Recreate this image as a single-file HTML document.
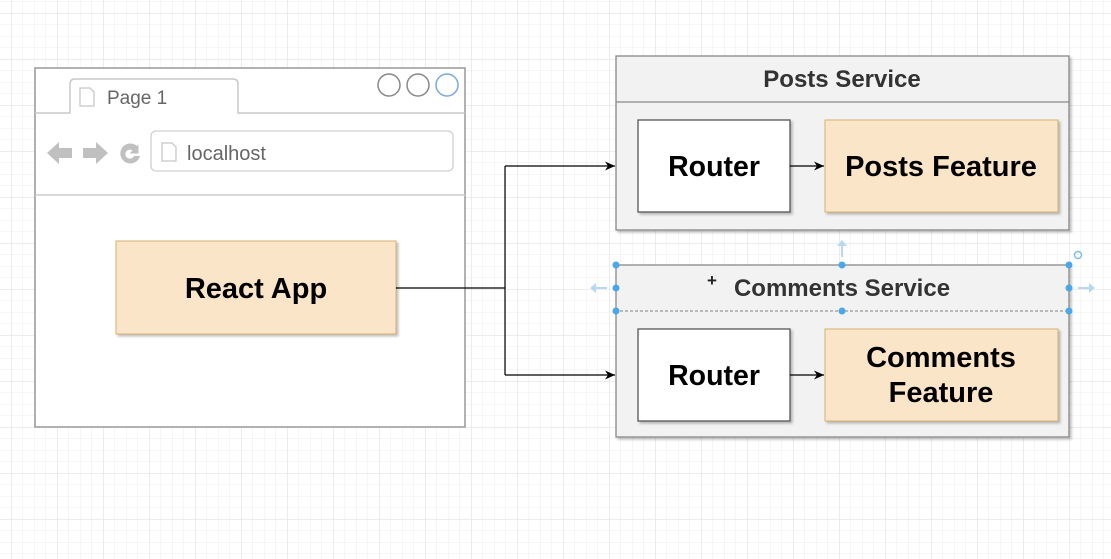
<!DOCTYPE html>
<html><head><meta charset="utf-8"><style>
html,body{margin:0;padding:0;background:#fff;width:1111px;height:559px;overflow:hidden}
svg{display:block}
text{font-family:"Liberation Sans",Arial,sans-serif}
</style></head><body>
<svg width="1111" height="559" viewBox="0 0 1111 559" xmlns="http://www.w3.org/2000/svg">
<defs>
<pattern id="minor" x="11" y="13" width="11.5" height="11.5" patternUnits="userSpaceOnUse">
<path d="M0 0H11.5M0 0V11.5" stroke="#eeeeee" stroke-width="1" fill="none"/>
</pattern>
<pattern id="major" x="11" y="13" width="46" height="46" patternUnits="userSpaceOnUse">
<path d="M0 0H46M0 0V46" stroke="#e2e2e2" stroke-width="1.3" fill="none"/>
</pattern>
<filter id="sh" x="-5%" y="-5%" width="110%" height="115%"><feDropShadow dx="2" dy="2" stdDeviation="1.2" flood-color="#000" flood-opacity="0.25"/></filter>
<marker id="ar" markerWidth="12" markerHeight="12" refX="10" refY="6" orient="auto" markerUnits="userSpaceOnUse"><path d="M0,1.5 L10,6 L0,10.5 L3,6 Z" fill="#000"/></marker>
</defs>
<rect width="1111" height="559" fill="#fff"/>
<rect width="1111" height="559" fill="url(#minor)"/>
<rect width="1111" height="559" fill="url(#major)"/>

<!-- browser -->
<rect x="35" y="68" width="430" height="359" fill="#fff" stroke="#999" stroke-width="1.5"/>
<path d="M35 113H70V84Q70 79 75 79H233Q238 79 238 84V113H465" fill="none" stroke="#c8c8c8" stroke-width="1.5"/>
<path d="M80 88h10l4 4v14h-14z" fill="none" stroke="#c8c8c8" stroke-width="1.3"/>
<text x="107" y="104" font-size="19" fill="#666">Page 1</text>
<circle cx="389" cy="85" r="11" fill="none" stroke="#888" stroke-width="1.5"/>
<circle cx="418" cy="85" r="11" fill="none" stroke="#888" stroke-width="1.5"/>
<circle cx="447" cy="85" r="11" fill="none" stroke="#7aa8e0" stroke-width="1.5"/>
<line x1="35" y1="195" x2="465" y2="195" stroke="#ccc" stroke-width="1.5"/>
<!-- nav icons -->
<path d="M47 153l12-11v6h13v10h-13v6z" fill="#c0c0c0"/>
<path d="M108 153l-12-11v6h-13v10h13v6z" fill="#c0c0c0"/>
<path d="M137 146a10 10 0 1 0 3 10h-6a4.5 4.5 0 1 1-1.5-5.5l-3 3h9v-9z" fill="#c0c0c0"/>
<rect x="151" y="131" width="302" height="40" rx="5" fill="#fff" stroke="#d0d0d0" stroke-width="1.3"/>
<path d="M162 143h10l4 4v14h-14z" fill="none" stroke="#c8c8c8" stroke-width="1.3"/>
<text x="187" y="160" font-size="20" fill="#666">localhost</text>

<!-- React App -->
<rect x="116" y="241" width="280" height="93" fill="#fae5c9" stroke="#d9b16f" stroke-width="1" filter="url(#sh)"/>
<text x="256" y="298" font-size="29" font-weight="bold" text-anchor="middle" fill="#000">React App</text>

<!-- connectors -->
<path d="M396 288H505" fill="none" stroke="#000" stroke-width="1.2"/>
<path d="M505 166V375" fill="none" stroke="#000" stroke-width="1.2"/>
<path d="M505 166H615" fill="none" stroke="#000" stroke-width="1.2" marker-end="url(#ar)"/>
<path d="M505 375H615" fill="none" stroke="#000" stroke-width="1.2" marker-end="url(#ar)"/>

<!-- Posts Service -->
<rect x="616" y="56" width="453" height="174" fill="#f2f2f2" stroke="#888" stroke-width="1.3" filter="url(#sh)"/>
<line x1="616" y1="102" x2="1069" y2="102" stroke="#888" stroke-width="1.3"/>
<text x="842" y="87" font-size="24" font-weight="bold" text-anchor="middle" fill="#333">Posts Service</text>
<rect x="638" y="120" width="152" height="92" fill="#fff" stroke="#555" stroke-width="1.3" filter="url(#sh)"/>
<text x="714" y="176" font-size="28.5" font-weight="bold" text-anchor="middle" fill="#000">Router</text>
<path d="M790 166H824" stroke="#000" stroke-width="1.2" marker-end="url(#ar)"/>
<rect x="825" y="120" width="233" height="92" fill="#fae5c9" stroke="#d9b16f" stroke-width="1" filter="url(#sh)"/>
<text x="941" y="176" font-size="29" font-weight="bold" text-anchor="middle" fill="#000">Posts Feature</text>

<!-- Comments Service -->
<rect x="616" y="265" width="453" height="172" fill="#f2f2f2" stroke="#888" stroke-width="1.3" filter="url(#sh)"/>
<rect x="616" y="265" width="453" height="46" fill="none" stroke="#999" stroke-width="1.2" stroke-dasharray="3,2"/>
<text x="842" y="296" font-size="24" font-weight="bold" text-anchor="middle" fill="#333">Comments Service</text>
<text x="712" y="286" font-size="17" font-weight="bold" text-anchor="middle" fill="#222">+</text>
<g fill="#4aa8e8">
<circle cx="616" cy="265" r="3.5"/><circle cx="842" cy="265" r="3.5"/><circle cx="1069" cy="265" r="3.5"/>
<circle cx="616" cy="288" r="3.5"/><circle cx="1069" cy="288" r="3.5"/>
<circle cx="616" cy="311" r="3.5"/><circle cx="842" cy="311" r="3.5"/><circle cx="1069" cy="311" r="3.5"/>
</g>
<g stroke="#b5d8f3" stroke-width="2" fill="#b5d8f3">
<path d="M842 257V242" fill="none"/><path d="M837 246l5-6 5 6z" stroke="none"/>
<path d="M607 288H592" fill="none"/><path d="M596 283l-6 5 6 5z" stroke="none"/>
<path d="M1078 288H1093" fill="none"/><path d="M1089 283l6 5-6 5z" stroke="none"/>
</g>
<circle cx="1078" cy="255" r="3.5" fill="none" stroke="#7fbdea" stroke-width="1.5"/>

<rect x="638" y="329" width="152" height="92" fill="#fff" stroke="#555" stroke-width="1.3" filter="url(#sh)"/>
<text x="714" y="385" font-size="28.5" font-weight="bold" text-anchor="middle" fill="#000">Router</text>
<path d="M790 375H824" stroke="#000" stroke-width="1.2" marker-end="url(#ar)"/>
<rect x="825" y="329" width="233" height="92" fill="#fae5c9" stroke="#d9b16f" stroke-width="1" filter="url(#sh)"/>
<text x="941" y="367" font-size="29" font-weight="bold" text-anchor="middle" fill="#000">Comments</text>
<text x="941" y="402" font-size="29" font-weight="bold" text-anchor="middle" fill="#000">Feature</text>
</svg>
</body></html>
